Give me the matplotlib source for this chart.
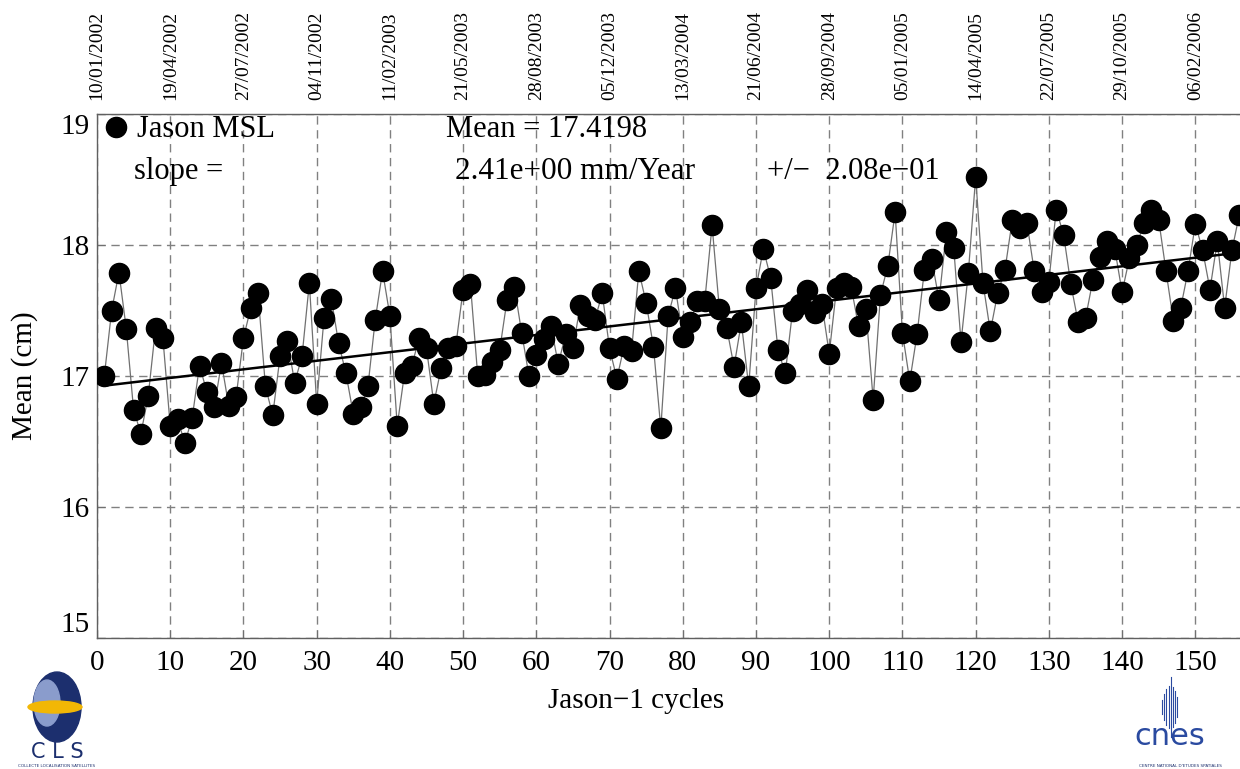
import numpy as np
import matplotlib.pyplot as plt
from matplotlib.patches import Ellipse

# Jason-1 mean sea level per cycle (cm)
cycles = list(range(1, 157))
msl = [17.00, 17.50, 17.79, 17.36, 16.74, 16.56, 16.85, 17.37, 17.29, 16.62,
       16.67, 16.49, 16.68, 17.08, 16.88, 16.76, 17.10, 16.77, 16.84, 17.29,
       17.52, 17.63, 16.92, 16.70, 17.15, 17.27, 16.95, 17.15, 17.71, 16.79,
       17.44, 17.59, 17.25, 17.02, 16.71, 16.76, 16.92, 17.43, 17.80, 17.46,
       16.62, 17.02, 17.08, 17.29, 17.21, 16.79, 17.06, 17.21, 17.23, 17.66,
       17.70, 17.00, 17.01, 17.11, 17.20, 17.58, 17.68, 17.33, 17.00, 17.16,
       17.28, 17.38, 17.09, 17.32, 17.21, 17.54, 17.46, 17.43, 17.63, 17.21,
       16.98, 17.23, 17.19, 17.80, 17.56, 17.22, 16.60, 17.46, 17.67, 17.30,
       17.41, 17.57, 17.57, 18.15, 17.51, 17.37, 17.07, 17.41, 16.92, 17.67,
       17.97, 17.75, 17.20, 17.02, 17.50, 17.55, 17.66, 17.48, 17.55, 17.17,
       17.67, 17.71, 17.68, 17.38, 17.51, 16.82, 17.62, 17.84, 18.25, 17.33,
       16.96, 17.32, 17.81, 17.89, 17.58, 18.10, 17.98, 17.26, 17.79, 18.52,
       17.71, 17.34, 17.63, 17.81, 18.19, 18.13, 18.17, 17.80, 17.64, 17.72,
       18.27, 18.08, 17.70, 17.41, 17.44, 17.73, 17.91, 18.03, 17.97, 17.64,
       17.90, 18.00, 18.17, 18.27, 18.19, 17.80, 17.42, 17.52, 17.80, 18.16,
       17.96, 17.66, 18.03, 17.52, 17.96, 18.23]

xticks = [0, 10, 20, 30, 40, 50, 60, 70, 80, 90, 100, 110, 120, 130, 140, 150]
date_labels = ['10/01/2002', '19/04/2002', '27/07/2002', '04/11/2002',
               '11/02/2003', '21/05/2003', '28/08/2003', '05/12/2003',
               '13/03/2004', '21/06/2004', '28/09/2004', '05/01/2005',
               '14/04/2005', '22/07/2005', '29/10/2005', '06/02/2006']
yticks = [15, 16, 17, 18, 19]

plt.rcParams['font.family'] = ['Liberation Serif', 'DejaVu Serif']

fig = plt.figure(figsize=(12.4, 7.69), dpi=100)
ax = fig.add_axes([97 / 1240, 131 / 769, 1 - 97 / 1240, 524 / 769])

x = np.array(cycles)
y = np.array(msl)

# thin grey line joining the cycles, black dots on top
ax.plot(x, y, color='#707070', linewidth=0.9, zorder=2)
ax.plot(x, y, 'o', color='black', markersize=14.5, zorder=3)

# linear trend
coef = np.polyfit(x, y, 1)
ax.plot(x, np.polyval(coef, x), color='black', linewidth=1.8, zorder=4)

ax.set_xlim(0, 156.1)
ax.set_ylim(15, 19)
ax.set_xticks(xticks)
ax.set_yticks(yticks)
ax.tick_params(axis='both', labelsize=21, direction='in', length=6,
               color='#707070', top=True)
ax.tick_params(axis='x', pad=9)
ax.tick_params(axis='y', pad=5)
labs = ax.get_yticklabels()
labs[0].set_verticalalignment('bottom')
labs[-1].set_verticalalignment('top')

ax.grid(True, color='#808080', linestyle=(0, (6, 4)), linewidth=1)
for side in ['left', 'bottom', 'top']:
    ax.spines[side].set_color('#606060')
    ax.spines[side].set_linewidth(1.0)
ax.spines['right'].set_visible(False)

ax.set_xlabel('Jason\u22121 cycles', fontsize=21)
ax.xaxis.set_label_coords((636 - 97) / 1143, -0.095)
ax.set_ylabel('Mean (cm)', fontsize=21)
ax.yaxis.set_label_coords(-0.052, 0.5)

# dates on top
ax2 = ax.twiny()
ax2.set_xlim(ax.get_xlim())
ax2.set_xticks(xticks)
ax2.set_xticklabels(date_labels, rotation=90, fontsize=14)
ax2.tick_params(axis='x', length=0, pad=10)
for s in ax2.spines.values():
    s.set_visible(False)

# legend / annotation text
ax.plot([2.6], [18.9], 'o', color='black', markersize=14.5, clip_on=False)
ax.text(5.4, 18.88, 'Jason MSL', fontsize=22, va='center')
ax.text(47.6, 18.88, 'Mean = 17.4198', fontsize=22, va='center')
ax.text(5.1, 18.56, 'slope =', fontsize=22, va='center')
ax.text(48.9, 18.56, '2.41e+00 mm/Year', fontsize=22.5, va='center')
ax.text(91.5, 18.56, '+/\u2212  2.08e\u221201', fontsize=22, va='center')

# rough logos
ax_cls = fig.add_axes([0, 0, 0.1, 0.13])
ax_cls.set_xlim(0, 124)
ax_cls.set_ylim(0, 100)
ax_cls.axis('off')
ax_cls.add_patch(Ellipse((57, 62), 48, 70, color='#1c2f6e'))
ax_cls.add_patch(Ellipse((47, 66), 26, 46, color='#8a9ccc'))
ax_cls.add_patch(Ellipse((55, 62), 54, 12, color='#f2b705'))
ax_cls.text(57, 17, 'C L S', fontsize=15, color='#1c2f6e', ha='center',
            va='center', family=['DejaVu Sans'])
ax_cls.text(57, 3, 'COLLECTE LOCALISATION SATELLITES', fontsize=3,
            color='#1c2f6e', ha='center', va='center', family=['DejaVu Sans'])

ax_cnes = fig.add_axes([0.9, 0, 0.1, 0.13])
ax_cnes.set_xlim(0, 124)
ax_cnes.set_ylim(0, 100)
ax_cnes.axis('off')
for i, h in enumerate([14, 26, 36, 42, 60, 40, 32, 20]):
    ax_cnes.plot([46 + i * 2.2, 46 + i * 2.2], [62 - h / 2, 62 + h / 2],
                 color='#2a4aa0', linewidth=0.8)
ax_cnes.text(54, 33, 'cnes', fontsize=22, color='#2a4aa0', ha='center',
             va='center', family=['DejaVu Sans'])
ax_cnes.text(64, 3, 'CENTRE NATIONAL D\'ETUDES SPATIALES', fontsize=3,
             color='#1c2f6e', ha='center', va='center', family=['DejaVu Sans'])

fig.savefig('out.png', dpi=100)
